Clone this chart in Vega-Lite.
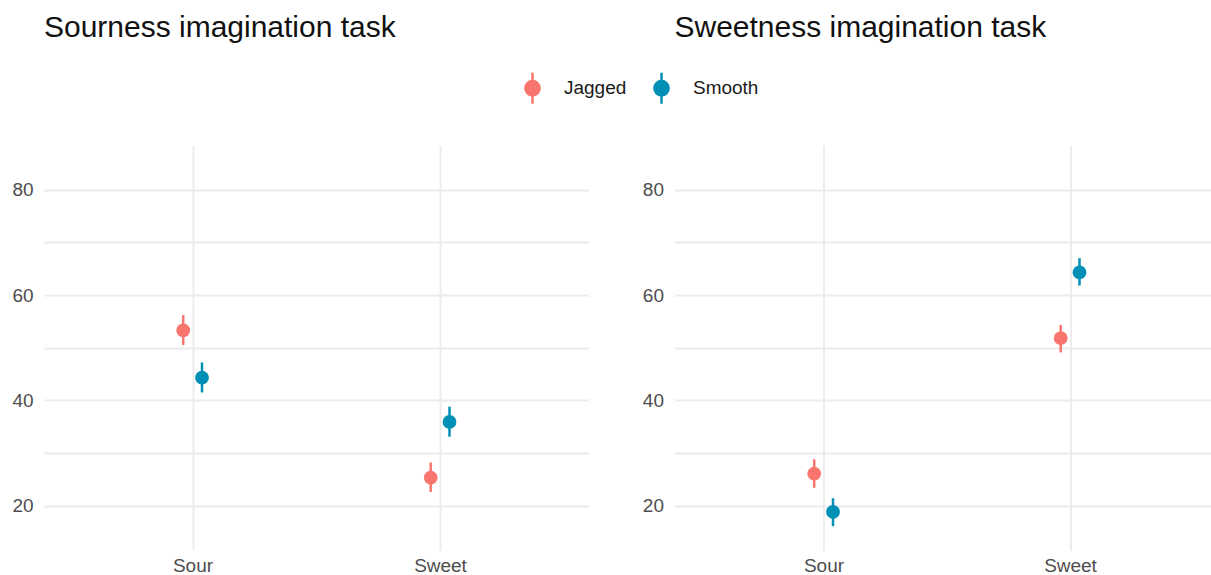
{
  "$schema": "https://vega.github.io/schema/vega-lite/v6.json",
  "padding": {"left": 11, "top": 12, "right": 0, "bottom": 0},
  "bounds": "flush",
  "spacing": 85.5,
  "config": {
    "view": {"stroke": null},
    "font": "Liberation Sans",
    "title": {"fontSize": 30, "fontWeight": "normal", "anchor": "start", "frame": "group", "color": "#111111", "offset": 102.3, "baseline": "alphabetic", "font": "Liberation Sans"},
    "axisX": {"grid": true, "gridColor": "#EBEBEB", "gridWidth": 1.8, "ticks": false, "domain": false, "labelFontSize": 19, "labelColor": "#4D4D4D", "labelPadding": 6, "labelAngle": 0, "title": null},
    "axisY": {"grid": true, "gridColor": "#EBEBEB", "gridWidth": 1.8, "ticks": false, "domain": false, "labelFontSize": 19, "labelColor": "#4D4D4D", "labelPadding": 11, "title": null}
  },
  "datasets": {
    "d": [
      {"task": "Sourness", "taste": "Sour", "shape": "Jagged", "mean": 53.3, "lower": 50.5, "upper": 56.2},
      {"task": "Sourness", "taste": "Sour", "shape": "Smooth", "mean": 44.3, "lower": 41.5, "upper": 47.2},
      {"task": "Sourness", "taste": "Sweet", "shape": "Jagged", "mean": 25.3, "lower": 22.6, "upper": 28.2},
      {"task": "Sourness", "taste": "Sweet", "shape": "Smooth", "mean": 35.9, "lower": 33.1, "upper": 38.8},
      {"task": "Sweetness", "taste": "Sour", "shape": "Jagged", "mean": 26.1, "lower": 23.4, "upper": 28.8},
      {"task": "Sweetness", "taste": "Sour", "shape": "Smooth", "mean": 18.8, "lower": 16.1, "upper": 21.4},
      {"task": "Sweetness", "taste": "Sweet", "shape": "Jagged", "mean": 51.8, "lower": 49.1, "upper": 54.3},
      {"task": "Sweetness", "taste": "Sweet", "shape": "Smooth", "mean": 64.3, "lower": 61.8, "upper": 67.0}
    ]
  },
  "hconcat": [
    {
      "title": "Sourness imagination task",
      "width": 544.5,
      "height": 405.4,
      "data": {"name": "d"},
      "transform": [{"filter": "datum.task === 'Sourness'"}],
      "encoding": {
        "x": {"field": "taste", "type": "nominal", "sort": ["Sour", "Sweet"], "scale": {"type": "point", "padding": 0.6}},
        "xOffset": {"field": "shape", "type": "nominal", "scale": {"type": "point", "padding": 0, "range": [-9.3, 9.5]}},
        "color": {
          "field": "shape", "type": "nominal",
          "scale": {"domain": ["Jagged", "Smooth"], "range": ["#F8766D", "#0090B6"]},
          "legend": {
            "title": null, "orient": "none", "legendX": 471.5, "legendY": -74, "direction": "horizontal",
            "symbolType": "M0,-1L0,1M-0.46,0A0.46,0.46,0,1,1,0.46,0A0.46,0.46,0,1,1,-0.46,0Z",
            "symbolSize": 961, "symbolStrokeWidth": 2.5, "labelFontSize": 19, "labelColor": "#1A1A1A",
            "labelOffset": 14.5, "columnPadding": 18, "padding": 0,
            "encode": {"symbols": {"update": {"fill": {"scale": "color", "field": "value"}, "stroke": {"scale": "color", "field": "value"}, "opacity": {"value": 1}}}}
          }
        }
      },
      "layer": [
        {"mark": {"type": "rule", "strokeWidth": 2.5}, "encoding": {"y": {"field": "lower", "type": "quantitative", "scale": {"domain": [11.5, 88.5], "nice": false, "zero": false}, "axis": {"values": [20, 30, 40, 50, 60, 70, 80], "labelExpr": "datum.value % 20 === 0 ? datum.label : ''"}}, "y2": {"field": "upper"}}},
        {"mark": {"type": "point", "filled": true, "size": 190, "opacity": 1}, "encoding": {"y": {"field": "mean", "type": "quantitative", "axis": {"values": [20, 30, 40, 50, 60, 70, 80], "labelExpr": "datum.value % 20 === 0 ? datum.label : ''"}}}}
      ]
    },
    {
      "title": "Sweetness imagination task",
      "width": 536,
      "height": 405.4,
      "data": {"name": "d"},
      "transform": [{"filter": "datum.task === 'Sweetness'"}],
      "encoding": {
        "x": {"field": "taste", "type": "nominal", "sort": ["Sour", "Sweet"], "scale": {"type": "point", "padding": 0.5872, "align": 0.5147}},
        "xOffset": {"field": "shape", "type": "nominal", "scale": {"type": "point", "padding": 0, "range": [-9.3, 9.5]}},
        "color": {"field": "shape", "type": "nominal", "scale": {"domain": ["Jagged", "Smooth"], "range": ["#F8766D", "#0090B6"]}}
      },
      "layer": [
        {"mark": {"type": "rule", "strokeWidth": 2.5}, "encoding": {"y": {"field": "lower", "type": "quantitative", "scale": {"domain": [11.5, 88.5], "nice": false, "zero": false}, "axis": {"values": [20, 30, 40, 50, 60, 70, 80], "labelExpr": "datum.value % 20 === 0 ? datum.label : ''"}}, "y2": {"field": "upper"}}},
        {"mark": {"type": "point", "filled": true, "size": 190, "opacity": 1}, "encoding": {"y": {"field": "mean", "type": "quantitative", "axis": {"values": [20, 30, 40, 50, 60, 70, 80], "labelExpr": "datum.value % 20 === 0 ? datum.label : ''"}}}}
      ]
    }
  ]
}
